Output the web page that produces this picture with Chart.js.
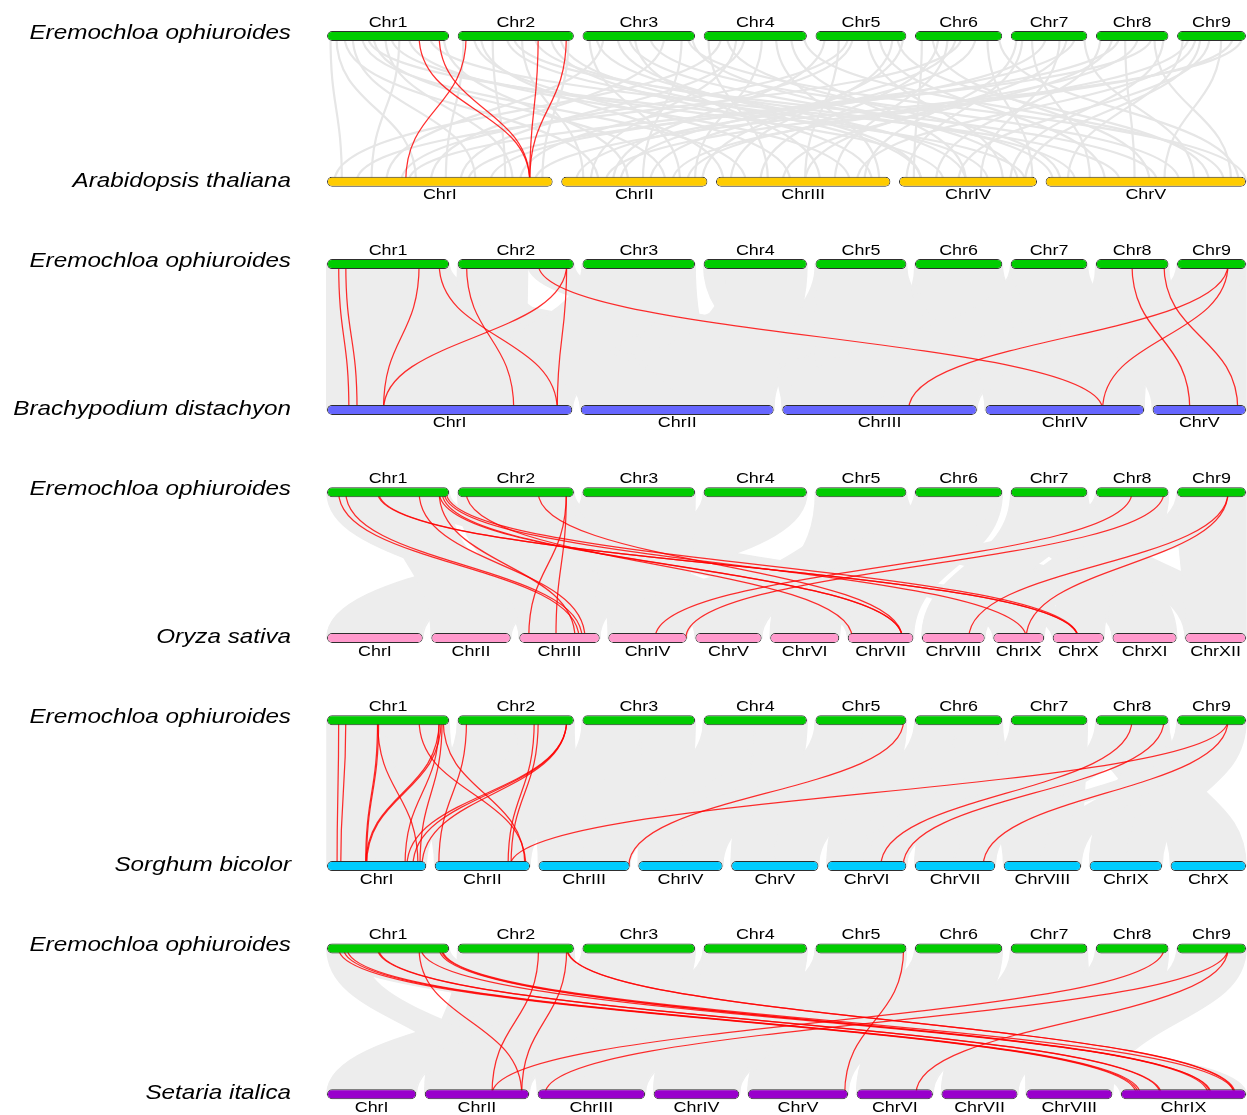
<!DOCTYPE html>
<html>
<head>
<meta charset="utf-8">
<style>
html,body{margin:0;padding:0;background:#ffffff;}
#wrap{width:1247px;height:1115px;position:relative;}
</style>
<script src="https://cdn.jsdelivr.net/npm/chart.js@4.4.1/dist/chart.umd.min.js"></script>
</head>
<body>
<div id="wrap"><canvas id="c" width="1247" height="1115"></canvas></div>
<script>
// ---------------- DATA ----------------
const refName = 'Eremochloa ophiuroides';
const speciesNames = ['Arabidopsis thaliana', 'Brachypodium distachyon', 'Oryza sativa', 'Sorghum bicolor', 'Setaria italica'];

// chromosome names and lengths (Mb)
const eoChroms = ['Chr1','Chr2','Chr3','Chr4','Chr5','Chr6','Chr7','Chr8','Chr9'];
const eoLengths = [104.6, 99.6, 96.5, 88.5, 77.9, 74.8, 65.6, 62.2, 59.1];
const atChroms = ['ChrI','ChrII','ChrIII','ChrIV','ChrV'];
const atLengths = [30.4, 19.7, 23.5, 18.6, 27.0];
const bdChroms = ['ChrI','ChrII','ChrIII','ChrIV','ChrV'];
const bdLengths = [75.1, 59.1, 59.6, 48.6, 28.6];
const osChroms = ['ChrI','ChrII','ChrIII','ChrIV','ChrV','ChrVI','ChrVII','ChrVIII','ChrIX','ChrX','ChrXI','ChrXII'];
const osLengths = [43.3, 35.9, 36.4, 35.5, 30.0, 31.2, 29.7, 28.4, 23.0, 23.2, 29.0, 27.5];
const sbChroms = ['ChrI','ChrII','ChrIII','ChrIV','ChrV','ChrVI','ChrVII','ChrVIII','ChrIX','ChrX'];
const sbLengths = [80.9, 77.7, 74.4, 68.8, 71.2, 64.7, 65.5, 63.1, 59.1, 61.5];
const siChroms = ['ChrI','ChrII','ChrIII','ChrIV','ChrV','ChrVI','ChrVII','ChrVIII','ChrIX'];
const siLengths = [42.1, 49.2, 50.7, 40.4, 47.3, 36.0, 35.9, 40.7, 59.0];

// highlighted gene pairs: [Eremochloa chr, Mb, other chr, Mb]
const atRed = [[1,78.9,1,27.3],[1,96.1,1,27.3],[2,7.3,1,10.6],[2,69.0,1,27.3],[2,93.1,1,27.3]];
const bdRed = [[1,10.0,1,6.7],[1,16.1,1,9.2],[1,78.9,1,17.3],[1,96.1,1,70.5],[2,7.6,1,57.2],
  [2,93.4,1,17.3],[2,93.4,1,70.5],[2,69.0,4,35.9],[9,43.7,3,38.7],[9,43.7,4,35.9],
  [8,30.9,5,11.4],[8,58.3,5,26.1]];
const osRed = [[1,10.0,3,27.0],[1,16.1,3,28.4],[1,43.3,10,11.5],[1,44.2,10,11.3],[1,78.9,3,29.7],
  [1,96.1,3,25.2],[1,96.1,7,24.6],[1,98.6,7,24.6],[1,100.3,9,14.9],[1,102.1,10,11.5],
  [2,7.3,7,2.0],[2,69.0,7,24.6],[2,93.1,3,4.3],[2,93.1,3,16.6],[8,30.9,4,21.2],
  [8,58.3,4,35.1],[9,43.7,8,21.2],[9,43.7,9,14.9]];
const sbRed = [[1,10.0,1,8.2],[1,16.1,1,11.2],[1,43.3,1,31.5],[1,44.2,1,32.2],[1,43.3,1,74.2],
  [1,78.9,2,74.2],[1,96.1,1,31.5],[1,97.8,1,32.2],[1,96.1,1,63.6],[1,98.6,1,75.8],
  [1,99.5,2,73.6],[2,7.6,2,3.3],[2,65.6,2,59.8],[2,69.0,2,62.2],[2,93.4,1,65.2],
  [2,93.4,1,70.1],[2,93.4,1,77.5],[5,75.5,3,73.6],[8,30.9,6,43.9],[8,58.3,6,62.1],
  [9,43.7,7,55.7],[9,43.7,2,61.4]];
const siRed = [[1,10.0,9,7.2],[1,14.2,9,8.1],[1,17.2,9,9.1],[1,43.3,9,18.5],[1,44.2,9,19.0],
  [1,78.9,2,45.7],[1,80.6,9,42.5],[1,96.1,9,41.1],[1,97.8,9,42.0],[1,98.6,9,53.4],
  [2,69.3,2,31.7],[2,93.4,2,45.7],[2,93.4,9,53.4],[2,93.9,9,53.9],[5,75.5,5,45.7],
  [8,58.3,2,31.7],[9,43.7,3,3.5],[9,43.7,6,28.0]];

// background collinear pairs, Arabidopsis: [Eo chr, Mb, At chr, Mb]
const atGray = [[1,3,1,2],[1,8,1,12],[1,15,2,5],[1,22,1,20],[1,30,3,4],[1,40,2,14],[1,55,4,6],
  [1,62,1,6],[1,70,3,18],[1,88,5,10],[1,100,2,9],[1,50,1,25],
  [2,5,1,16],[2,14,3,10],[2,30,1,24],[2,42,4,12],[2,55,2,3],[2,66,5,4],[2,80,3,21],[2,95,1,29],[2,20,3,1],
  [3,6,2,16],[3,18,1,8],[3,30,4,3],[3,45,3,14],[3,58,5,18],[3,70,1,14],[3,85,2,11],[3,94,4,16],[3,40,5,1],[3,90,5,27],
  [4,4,3,7],[4,20,5,2],[4,35,1,18],[4,50,2,18],[4,62,3,22],[4,75,4,9],[4,86,5,24],[4,15,1,1],
  [5,8,2,7],[5,20,3,12],[5,32,1,26],[5,45,4,14],[5,55,5,8],[5,66,3,2],[5,75,2,19],[5,70,5,22],
  [6,6,4,2],[6,15,5,14],[6,28,3,16],[6,40,1,4],[6,52,2,12],[6,62,4,18],[6,72,5,26],[6,35,2,8],
  [7,5,3,20],[7,18,5,6],[7,30,2,2],[7,42,4,11],[7,55,1,22],[7,63,5,20],[7,10,4,1],
  [8,4,4,5],[8,14,3,9],[8,25,5,12],[8,36,2,17],[8,48,1,11],[8,58,4,15],[8,50,5,25],
  [9,5,5,3],[9,16,3,19],[9,28,4,8],[9,38,5,16],[9,48,2,6],[9,56,1,28],[9,20,4,17],
  [1,35,4,17],[2,48,5,15],[3,12,4,9],[4,28,2,4],[5,28,1,10],[6,20,3,6],[7,48,3,12],[8,20,1,19],[9,10,2,15],[2,88,4,3]];

// background collinear blocks: [Eo chr, start, end, other chr, start, end] (Mb)
const bdGray = [[1,0,60,1,0,32],[1,60,104.6,3,38,59.6],[2,0,60,1,32,60],[2,60,99.6,4,28,48.6],
  [3,0,96.5,2,0,40],[4,0,50,3,0,22],[4,50,88.5,1,58,75.1],[5,0,40,2,40,59.1],[5,40,77.9,4,0,18],
  [6,0,74.8,3,18,40],[7,0,65.6,4,14,32],[8,0,62.2,5,0,28.6],[9,0,59.1,3,40,59.6],[9,20,50,4,30,46],
  [3,20,70,1,10,40],[6,20,60,2,10,50],
  [2,0,40,2,0,30],[4,20,88.5,2,20,59.1],[5,0,77.9,3,10,59.6],[6,0,74.8,4,0,48.6],[7,0,65.6,3,0,30],
  [8,0,62.2,4,10,48.6],[9,0,59.1,5,0,28.6],[1,30,104.6,2,0,30],[3,0,96.5,1,30,75.1],[9,0,59.1,4,0,30],
  [1,0,104.6,1,0,75.1],[7,0,65.6,5,0,28.6]];
const osGray = [[1,0,68,3,0,36.4],[1,68,104.6,10,0,23.2],[2,0,62,7,0,29.7],[2,62,99.6,9,0,23.0],
  [3,0,96.5,1,0,43.3],[4,0,88.5,2,0,35.9],[5,0,77.9,11,0,29.0],[6,0,40,6,0,31.2],[6,40,74.8,5,0,30.0],
  [7,0,65.6,12,0,27.5],[8,0,62.2,4,0,35.5],[9,0,59.1,8,0,28.4],[5,20,60,5,5,25],
  [2,0,99.6,5,0,30.0],[4,0,88.5,3,0,36.4],[5,0,77.9,6,0,31.2],[6,0,74.8,7,0,29.7],[7,0,65.6,11,0,29.0],
  [8,0,62.2,9,0,23.0],[9,0,59.1,12,0,27.5],[3,0,96.5,4,0,35.5],[2,0,99.6,3,0,36.4],[7,0,65.6,8,0,28.4],
  [8,0,62.2,10,0,23.2],[6,0,74.8,4,0,35.5],[1,50,104.6,2,0,35.9]];
const sbGray = [[1,0,104.6,1,0,80.9],[2,0,99.6,2,0,77.7],[3,0,96.5,3,0,74.4],[4,0,88.5,4,0,68.8],
  [5,0,77.9,5,0,71.2],[6,0,74.8,6,0,64.7],[7,0,65.6,7,0,65.5],[8,0,62.2,10,0,61.5],[9,0,59.1,9,0,59.1],
  [7,20,65.6,8,0,63.1],[6,30,74.8,8,0,40],[5,40,77.9,3,40,74.4],[8,10,50,6,20,64.7],[9,20,50,7,30,60],
  [1,50,104.6,2,0,40],[2,0,50,1,40,80.9],[2,50,99.6,3,0,40],[3,0,50,2,40,77.7],[3,50,96.5,4,0,35],
  [4,0,44,3,35,74.4],[4,44,88.5,5,0,35],[5,0,40,4,34,68.8],[5,40,77.9,6,0,30],[6,0,37,5,35,71.2],
  [6,37,74.8,7,0,32],[7,0,32,6,32,64.7],[7,32,65.6,8,0,32],[8,0,31,7,33,65.5],[8,31,62.2,9,0,30],
  [9,0,30,8,30,63.1]];
const siGray = [[1,0,104.6,9,0,59.0],[2,0,99.6,2,0,49.2],[3,0,96.5,1,0,42.1],[4,0,88.5,3,0,50.7],
  [5,0,77.9,5,0,47.3],[6,0,74.8,4,0,40.4],[7,0,65.6,8,0,40.7],[8,0,62.2,6,0,36.0],[9,0,59.1,7,0,35.9],
  [1,0,30,2,20,49.2],[3,40,96.5,3,10,40],
  [4,0,88.5,2,0,49.2],[5,0,77.9,4,0,40.4],[6,0,74.8,5,0,47.3],[7,0,65.6,6,0,36.0],[8,0,62.2,7,0,35.9],
  [9,0,59.1,8,0,40.7],[2,0,99.6,3,0,50.7],[5,0,77.9,3,20,50.7],[6,0,74.8,6,0,36.0],[7,0,65.6,7,0,35.9],
  [8,0,62.2,8,0,40.7],[3,0,96.5,2,0,49.2],[4,0,88.5,4,0,40.4]];

// ---------------- LAYOUT / STYLE ----------------
const ROW_LEFT = 327, ROW_RIGHT = 1246, CHR_GAP = 8.5;
const TOP0 = 36, PANEL_STEP = 228.1, PAIR_GAP = 145.8;
const TEXT_SX = 1.155;
const FONT = '"Liberation Sans", Arial, Helvetica, sans-serif';

function layoutRow(lengths) {
  const total = lengths.reduce((a, b) => a + b, 0);
  const k = (ROW_RIGHT - ROW_LEFT - CHR_GAP * (lengths.length - 1)) / total;
  const starts = [];
  let x = ROW_LEFT;
  lengths.forEach(L => { starts.push(x); x += L * k + CHR_GAP; });
  return { k, starts, lengths };
}
const eoRow = layoutRow(eoLengths);
const panels = [
  { name: speciesNames[0], chroms: atChroms, row: layoutRow(atLengths), color: '#FFCC00', red: atRed, lines: atGray, blocks: [] },
  { name: speciesNames[1], chroms: bdChroms, row: layoutRow(bdLengths), color: '#6666FF', red: bdRed, lines: [], blocks: bdGray },
  { name: speciesNames[2], chroms: osChroms, row: layoutRow(osLengths), color: '#FF99CC', red: osRed, lines: [], blocks: osGray },
  { name: speciesNames[3], chroms: sbChroms, row: layoutRow(sbLengths), color: '#00CCFF', red: sbRed, lines: [], blocks: sbGray },
  { name: speciesNames[4], chroms: siChroms, row: layoutRow(siLengths), color: '#9900CC', red: siRed, lines: [], blocks: siGray }
];

const bars = [], barColors = [];
panels.forEach((p, i) => {
  const yt = TOP0 + i * PANEL_STEP, yb = yt + PAIR_GAP;
  eoRow.starts.forEach((s, j) => { bars.push({ x: [s, s + eoLengths[j] * eoRow.k], y: yt }); barColors.push('#00CC00'); });
  p.row.starts.forEach((s, j) => { bars.push({ x: [s, s + p.row.lengths[j] * p.row.k], y: yb }); barColors.push(p.color); });
});

const linksPlugin = {
  id: 'links',
  beforeDatasetsDraw(chart) {
    const ctx = chart.ctx, xs = chart.scales.x, ys = chart.scales.y;
    panels.forEach((p, i) => {
      const yt = ys.getPixelForValue(TOP0 + i * PANEL_STEP);
      const yb = ys.getPixelForValue(TOP0 + i * PANEL_STEP + PAIR_GAP);
      const ym = (yt + yb) / 2;
      const X = (row, c, mb) => xs.getPixelForValue(row.starts[c - 1] + mb * row.k);
      ctx.save();
      ctx.fillStyle = '#ededed';
      ctx.strokeStyle = '#ededed';
      ctx.lineWidth = 1.5;
      p.blocks.forEach(b => {
        const a1 = X(eoRow, b[0], b[1]), a2 = X(eoRow, b[0], b[2]);
        const b1 = X(p.row, b[3], b[4]), b2 = X(p.row, b[3], b[5]);
        ctx.beginPath();
        ctx.moveTo(a1, yt);
        ctx.bezierCurveTo(a1, ym, b1, ym, b1, yb);
        ctx.lineTo(b2, yb);
        ctx.bezierCurveTo(b2, ym, a2, ym, a2, yt);
        ctx.closePath();
        ctx.fill();
        ctx.stroke();
      });
      ctx.strokeStyle = '#e6e6e6';
      ctx.lineWidth = 2.2;
      p.lines.forEach(l => {
        const a = X(eoRow, l[0], l[1]), b = X(p.row, l[2], l[3]);
        ctx.beginPath(); ctx.moveTo(a, yt); ctx.bezierCurveTo(a, ym, b, ym, b, yb); ctx.stroke();
      });
      ctx.strokeStyle = 'rgba(255,0,0,0.82)';
      ctx.lineWidth = 1.25;
      p.red.forEach(l => {
        const a = X(eoRow, l[0], l[1]), b = X(p.row, l[2], l[3]);
        ctx.beginPath(); ctx.moveTo(a, yt); ctx.bezierCurveTo(a, ym, b, ym, b, yb); ctx.stroke();
      });
      ctx.restore();
    });
  },
  afterDatasetsDraw(chart) {
    const ctx = chart.ctx, xs = chart.scales.x, ys = chart.scales.y;
    ctx.save();
    ctx.fillStyle = '#000';
    ctx.scale(TEXT_SX, 1);
    panels.forEach((p, i) => {
      const yt = ys.getPixelForValue(TOP0 + i * PANEL_STEP);
      const yb = ys.getPixelForValue(TOP0 + i * PANEL_STEP + PAIR_GAP);
      ctx.font = 'italic 21px ' + FONT;
      ctx.textAlign = 'right';
      ctx.textBaseline = 'alphabetic';
      ctx.fillText(refName, 291 / TEXT_SX, yt + 3);
      ctx.fillText(p.name, 291 / TEXT_SX, yb + 5);
      ctx.font = '15.5px ' + FONT;
      ctx.textAlign = 'center';
      eoChroms.forEach((c, j) => {
        const cx = xs.getPixelForValue(eoRow.starts[j] + eoLengths[j] * eoRow.k / 2);
        ctx.fillText(c, cx / TEXT_SX, yt - 9);
      });
      p.chroms.forEach((c, j) => {
        const cx = xs.getPixelForValue(p.row.starts[j] + p.row.lengths[j] * p.row.k / 2);
        ctx.fillText(c, cx / TEXT_SX, yb + 17.5);
      });
    });
    ctx.restore();
  }
};

new Chart(document.getElementById('c'), {
  type: 'bar',
  data: {
    datasets: [{
      data: bars,
      backgroundColor: barColors,
      borderColor: '#2e2e2e',
      borderWidth: 1,
      borderRadius: 5,
      borderSkipped: false,
      barThickness: 10,
      inflateAmount: 0
    }]
  },
  options: {
    indexAxis: 'y',
    responsive: false,
    animation: false,
    devicePixelRatio: 1,
    events: [],
    layout: { padding: 0 },
    plugins: { legend: { display: false }, tooltip: { enabled: false }, title: { display: false } },
    scales: {
      x: { type: 'linear', min: 0, max: 1247, offset: false, display: false },
      y: { type: 'linear', min: 0, max: 1115, reverse: true, offset: false, display: false }
    }
  },
  plugins: [linksPlugin]
});
</script>
</body>
</html>
